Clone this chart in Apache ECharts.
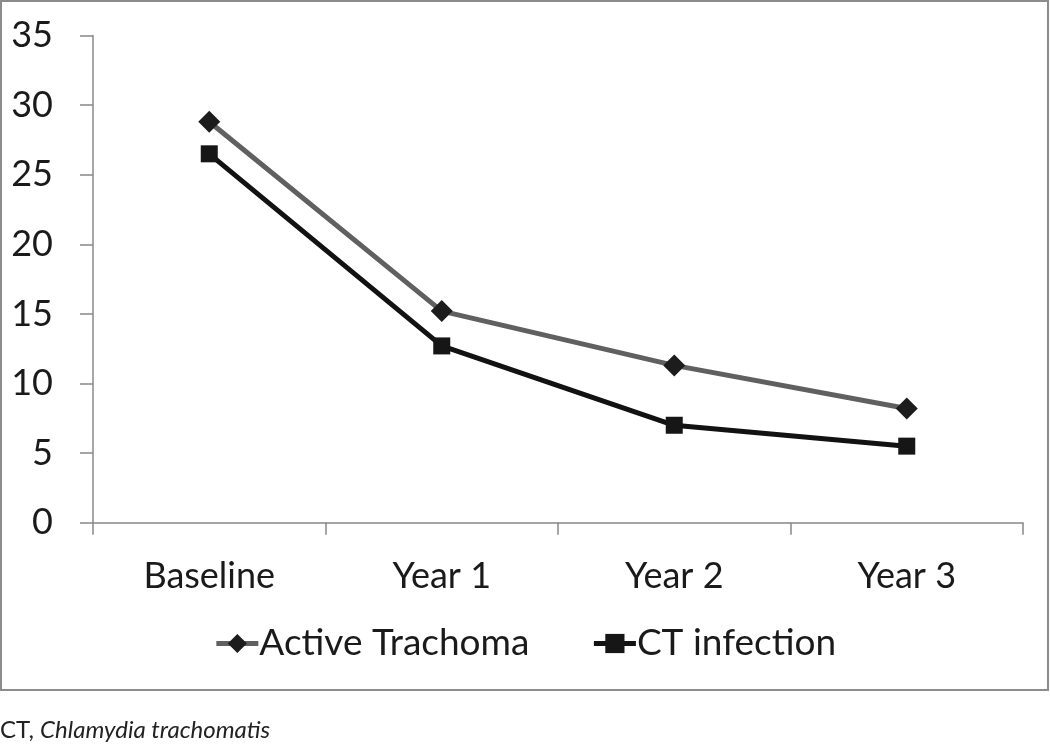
<!DOCTYPE html>
<html><head><meta charset="utf-8">
<script src="https://cdn.jsdelivr.net/npm/echarts@6/dist/echarts.min.js"></script>
<style>html,body{margin:0;padding:0;background:#fff}#c{width:1050px;height:747px}</style>
</head><body><div id="c"></div>
<script>
const categories = ['Baseline', 'Year 1', 'Year 2', 'Year 3'];
const activeTrachoma = [28.8, 15.2, 11.3, 8.2];
const ctInfection = [26.5, 12.7, 7.0, 5.5];
const seriesNames = ['Active Trachoma', 'CT infection'];
const footnoteLead = 'CT, ';
const footnoteItalic = 'Chlamydia trachomatis';

const FONT = 'Lato, "Open Sans", sans-serif';
const chart = echarts.init(document.getElementById('c'), null, {renderer: 'canvas'});
chart.setOption({
  animation: false,
  backgroundColor: '#fff',
  grid: {left: 93, right: 27, top: 35.5, bottom: 224.3, containLabel: false},
  xAxis: {
    type: 'category', data: categories, boundaryGap: true,
    axisLine: {lineStyle: {color: '#888', width: 1.5}},
    axisTick: {show: true, length: 12, lineStyle: {color: '#888', width: 1.5}},
    axisLabel: {fontFamily: FONT, fontSize: 36, color: '#1a1a1a', margin: 36},
    splitLine: {show: false}
  },
  yAxis: {
    type: 'value', min: 0, max: 35, interval: 5,
    axisLine: {show: true, lineStyle: {color: '#888', width: 1.5}},
    axisTick: {show: true, length: 13, lineStyle: {color: '#888', width: 1.5}},
    axisLabel: {fontFamily: FONT, fontSize: 36, color: '#1a1a1a', margin: 40},
    splitLine: {show: false}
  },
  legend: {
    top: 620, left: 'center',
    itemWidth: 42, itemHeight: 24, itemGap: 62,
    textStyle: {fontFamily: FONT, fontSize: 37, color: '#1a1a1a', padding: [0,0,0,-4]},
    data: [
      {name: seriesNames[0], lineStyle: {width: 5, color: '#606060'}},
      {name: seriesNames[1], lineStyle: {width: 5, color: '#121212'}}
    ]
  },
  series: [
    {name: seriesNames[0], type: 'line', data: activeTrachoma,
     symbol: 'diamond', symbolSize: 22,
     lineStyle: {color: '#606060', width: 5},
     itemStyle: {color: '#1c1c1c', borderWidth: 0}},
    {name: seriesNames[1], type: 'line', data: ctInfection,
     symbol: 'rect', symbolSize: 17,
     lineStyle: {color: '#121212', width: 5},
     itemStyle: {color: '#161616', borderWidth: 0}}
  ],
  graphic: [
    {type: 'rect', shape: {x: 1, y: 1, width: 1047, height: 689}, silent: true, z: -1,
     style: {fill: 'none', stroke: '#8c8c8c', lineWidth: 2}},
    {type: 'text', left: 0, top: 718, silent: true,
     style: {text: '{a|' + footnoteLead + '}{b|' + footnoteItalic + '}',
       rich: {a: {fontFamily: FONT, fontSize: 24, fill: '#222'},
              b: {fontFamily: FONT, fontSize: 24, fontStyle: 'italic', fill: '#222'}}}}
  ]
});
</script></body></html>
